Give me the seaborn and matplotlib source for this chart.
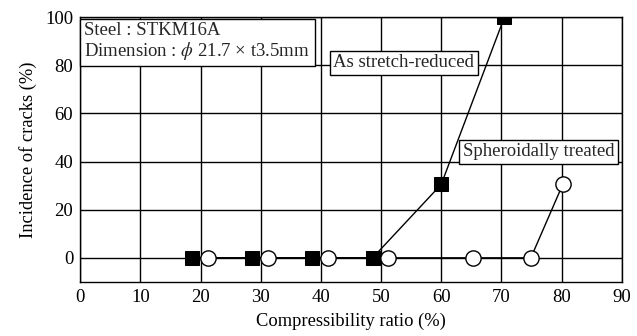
import matplotlib
matplotlib.use("Agg")
import matplotlib.pyplot as plt
import seaborn as sns
import pandas as pd

# Data
stretch_x = [18.6, 28.6, 38.6, 48.6, 60.0, 70.5]
stretch_y = [0, 0, 0, 0, 30.5, 100]
sphero_x = [21.2, 31.2, 41.2, 51.2, 65.3, 74.9, 80.2]
sphero_y = [0, 0, 0, 0, 0, 0, 30.5]
x_ticks = [0, 10, 20, 30, 40, 50, 60, 70, 80, 90]
y_ticks = [0, 20, 40, 60, 80, 100]

sns.set_theme(style="white")
plt.rcParams['font.family'] = ['Liberation Serif', 'DejaVu Serif']
plt.rcParams['mathtext.fontset'] = 'stix'

fig = plt.figure(figsize=(6.37, 3.36), dpi=100)
ax = fig.add_axes([0.126, 0.161, 0.85, 0.788])

df_s = pd.DataFrame({"x": stretch_x, "y": stretch_y})
df_c = pd.DataFrame({"x": sphero_x, "y": sphero_y})

sns.lineplot(data=df_s, x="x", y="y", ax=ax, color="black", lw=1.0,
             marker="s", markersize=10, markerfacecolor="black",
             markeredgecolor="black", sort=False, zorder=3)
sns.lineplot(data=df_c, x="x", y="y", ax=ax, color="black", lw=1.0,
             marker="o", markersize=11, markerfacecolor="white",
             markeredgecolor="black", markeredgewidth=1.0, sort=False, zorder=4)

ax.set_xlim(0, 90)
ax.set_ylim(-10, 100)
ax.set_xticks(x_ticks)
ax.set_yticks(y_ticks)
ax.grid(True, color="black", lw=1.0)
ax.set_axisbelow(True)
for s in ax.spines.values():
    s.set_color("black")
    s.set_linewidth(1.0)
ax.tick_params(axis="both", length=0, labelsize=13.5, colors="black", pad=5)
ax.set_xlabel("Compressibility ratio (%)", fontsize=13.3, labelpad=5, color="black")
ax.set_ylabel("Incidence of cracks (%)", fontsize=13.3, labelpad=6, color="black")

box = dict(boxstyle="square,pad=0.2", fc="white", ec="black", lw=1.0)
ax.text(0.7, 98.0, "Steel : STKM16A\nDimension : $\\phi$ 21.7 × t3.5mm",
        fontsize=13.5, va="top", ha="left", linespacing=1.05, zorder=5,
        bbox=dict(boxstyle="square,pad=0.25", fc="white", ec="black", lw=1.0))
ax.text(53.8, 81, "As stretch-reduced", fontsize=13.5, ha="center", va="center",
        bbox=box, zorder=5)
ax.text(76.2, 44, "Spheroidally treated", fontsize=13.5, ha="center", va="center",
        bbox=box, zorder=5)

fig.savefig("out.png", dpi=100)
